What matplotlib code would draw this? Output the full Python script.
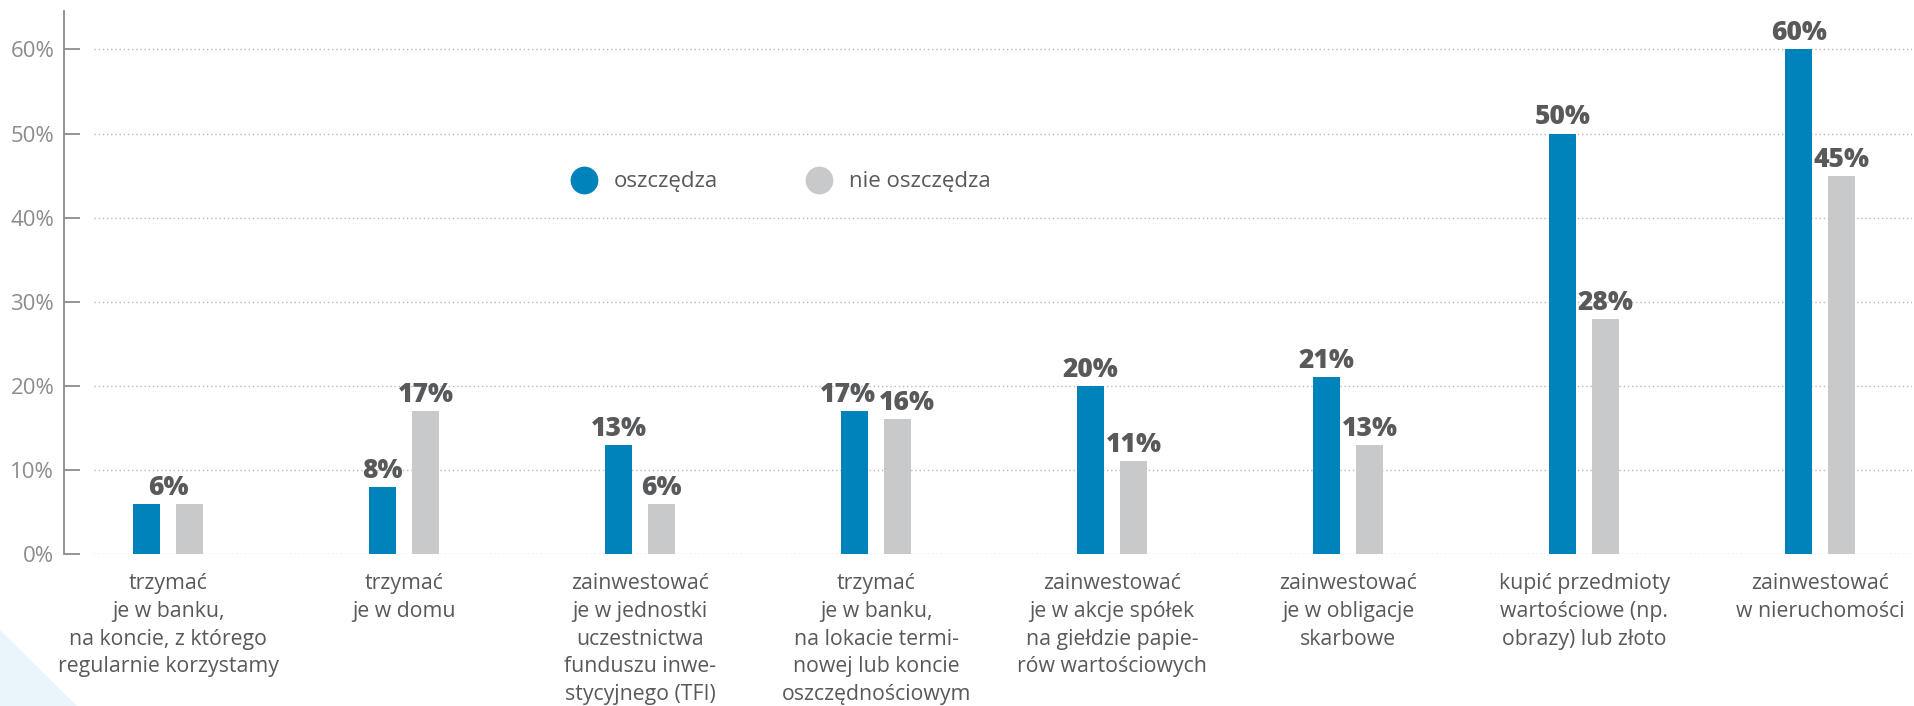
import matplotlib
matplotlib.use("Agg")
import matplotlib.pyplot as plt
from matplotlib.lines import Line2D
from matplotlib.patches import Polygon
import numpy as np

plt.rcParams['font.family'] = ['Open Sans', 'DejaVu Sans']

# --- data -------------------------------------------------------------
categories = [
    "trzymać\nje w banku,\nna koncie, z którego\nregularnie korzystamy",
    "trzymać\nje w domu",
    "zainwestować\nje w jednostki\nuczestnictwa\nfunduszu inwe-\nstycyjnego (TFI)",
    "trzymać\nje w banku,\nna lokacie termi-\nnowej lub koncie\noszczędnościowym",
    "zainwestować\nje w akcje spółek\nna giełdzie papie-\nrów wartościowych",
    "zainwestować\nje w obligacje\nskarbowe",
    "kupić przedmioty\nwartościowe (np.\nobrazy) lub złoto",
    "zainwestować\nw nieruchomości",
]
oszczedza = [6, 8, 13, 17, 20, 21, 50, 60]
nie_oszczedza = [6, 17, 6, 16, 11, 13, 28, 45]
series_names = ["oszczędza", "nie oszczędza"]
y_ticks = [0, 10, 20, 30, 40, 50, 60]
y_tick_labels = ["0%", "10%", "20%", "30%", "40%", "50%", "60%"]

# --- style ------------------------------------------------------------
BLUE = "#0082BA"
GREY = "#C8C9CB"
TEXT = "#58595B"
AXIS = "#8C8C8C"
GRID = "#B8B8B8"

W, H = 1914, 706
fig = plt.figure(figsize=(W / 100, H / 100), dpi=100)
fig.patch.set_facecolor("white")

# decorative light corner shape
fig.patches.append(Polygon([[0, 76 / H], [77 / W, 0], [0, 0]], closed=True,
                           transform=fig.transFigure, facecolor="#EAF4FB",
                           edgecolor="none", zorder=0))

ax = fig.add_axes([64 / W, (H - 554) / H, (1912 - 64) / W, (554 - 11) / H])
ax.set_facecolor("none")

x = np.arange(len(categories))
off = 0.0911
bw = 0.1144

ax.bar(x - off, oszczedza, width=bw, color=BLUE, zorder=3)
ax.bar(x + off, nie_oszczedza, width=bw, color=GREY, zorder=3)

ax.set_xlim(-0.4405, 7.388)
ax.set_ylim(0, 64.57)

# dotted horizontal guides, starting a little right of the axis line
for t in y_ticks:
    ax.axhline(t, xmin=30 / 1848, xmax=1, color=GRID, lw=1.0,
               ls=(0, (1, 2)), zorder=1)

ax.set_yticks(y_ticks)
ax.set_yticklabels(y_tick_labels)
ax.tick_params(axis="y", direction="in", length=11.5, width=1.3,
               color=AXIS, labelcolor=AXIS, labelsize=16, pad=7)
ax.set_xticks([])

for s in ["top", "right", "bottom"]:
    ax.spines[s].set_visible(False)
ax.spines["left"].set_color(AXIS)
ax.spines["left"].set_linewidth(1.3)

# value labels above bars
label_kw = dict(textcoords="offset points", ha="center", va="baseline",
                fontsize=19, fontweight="heavy", color=TEXT, zorder=4)
for i, (a, b) in enumerate(zip(oszczedza, nie_oszczedza)):
    if a == b:
        ax.annotate(f"{a}%", xy=(x[i], a), xytext=(0, 6.5), **label_kw)
        continue
    da, db = 0, 0
    if abs(a - b) <= 2:
        da, db = -5, 7
    ax.annotate(f"{a}%", xy=(x[i] - off, a), xytext=(da, 6.5), **label_kw)
    ax.annotate(f"{b}%", xy=(x[i] + off, b), xytext=(db, 6.5), **label_kw)

# category labels under the groups
for i, cat in enumerate(categories):
    ax.annotate(cat, xy=(x[i], 0), xycoords=("data", "axes fraction"),
                xytext=(0, -14), textcoords="offset points",
                ha="center", va="top", fontsize=15.3, color=TEXT,
                linespacing=1.41)

# legend
handles = [
    Line2D([], [], ls="none", marker="o", markersize=20,
           markerfacecolor=BLUE, markeredgecolor="none"),
    Line2D([], [], ls="none", marker="o", markersize=20,
           markerfacecolor=GREY, markeredgecolor="none"),
]
leg = ax.legend(handles, series_names, ncol=2, frameon=False,
                loc="center left", bbox_to_anchor=(569.5 / W, (H - 182) / H),
                bbox_transform=fig.transFigure, fontsize=16,
                handlelength=1.3, handletextpad=0.7, columnspacing=3.9,
                borderpad=0, borderaxespad=0)
for t in leg.get_texts():
    t.set_color(TEXT)

fig.savefig("out.png", dpi=100)
